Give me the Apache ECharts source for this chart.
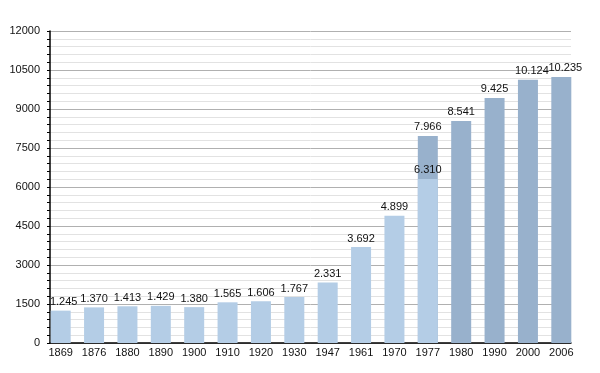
<!DOCTYPE html>
<html><head><meta charset="utf-8">
<script src="https://cdn.jsdelivr.net/npm/echarts@6/dist/echarts.min.js"></script>
<style>html,body{margin:0;padding:0;background:#fff}#c{width:600px;height:373px}</style>
</head><body><div id="c"></div>
<script>
const categories = ['1869','1876','1880','1890','1900','1910','1920','1930','1947','1961','1970','1977','1980','1990','2000','2006'];
const lightValues = [1245,1370,1413,1429,1380,1565,1606,1767,2331,3692,4899,6310,null,null,null,null];
const darkValues = [null,null,null,null,null,null,null,null,null,null,null,7966,8541,9425,10124,10235];
const yTicks = [0,1500,3000,4500,6000,7500,9000,10500,12000];

function fmt(v){ return String(v).replace(/\B(?=(\d{3})+(?!\d))/g,'.'); }
const FONT = 'Liberation Sans';
const chart = echarts.init(document.getElementById('c'), null, {renderer:'canvas'});
const lbl = {show:true, position:'top', distance:3, color:'#111', fontFamily:FONT, fontSize:11,
  formatter:p=>fmt(p.value)};
// label nudges (layout only) keyed by category index
const lightNudge = {0:[3,0]};
const darkNudge = {14:[4,0], 15:[4,0]};
function withNudge(arr, nudge){
  return arr.map((v,i)=> (v!=null && nudge[i]) ? {value:v, label:{offset:nudge[i]}} : v);
}
chart.setOption({
  animation:false,
  grid:[
    {left:44, right:22, top:31, bottom:30},
    {left:50, right:29, top:31, bottom:30}
  ],
  xAxis:[
    {type:'category', gridIndex:0, data:categories, axisLine:{show:false}, axisTick:{show:false},
     axisLabel:{color:'#111', fontFamily:FONT, fontSize:11, margin:4}},
    {type:'value', gridIndex:1, min:0, max:1, axisLine:{show:true, lineStyle:{color:'#000', width:1.5}},
     axisTick:{show:false}, axisLabel:{show:false}, splitLine:{show:false}}
  ],
  yAxis:[
    {type:'value', gridIndex:0, min:0, max:12000, show:false, splitLine:{show:false}},
    {type:'value', gridIndex:1, min:0, max:12000, interval:1500,
     axisLine:{show:true, lineStyle:{color:'#000', width:1.5}},
     axisTick:{show:true, length:3, lineStyle:{color:'#000'}},
     minorTick:{show:true, splitNumber:5, length:3, lineStyle:{color:'#000'}},
     axisLabel:{color:'#111', fontFamily:FONT, fontSize:11, margin:10,
       customValues:yTicks, formatter:v=>String(v)},
     splitLine:{show:true, lineStyle:{color:'#b0b0b0', width:1}},
     minorSplitLine:{show:true, lineStyle:{color:'#e2e2e2', width:1}}}
  ],
  series:[
    {type:'bar', xAxisIndex:0, yAxisIndex:0, data:withNudge(darkValues, darkNudge), barWidth:20, barGap:'-100%',
     itemStyle:{color:'#98b1cc'}, label:lbl, z:3},
    {type:'bar', xAxisIndex:0, yAxisIndex:0, data:withNudge(lightValues, lightNudge), barWidth:20, barGap:'-100%',
     itemStyle:{color:'#b4cde6'}, label:lbl, z:4}
  ]
});
</script></body></html>
